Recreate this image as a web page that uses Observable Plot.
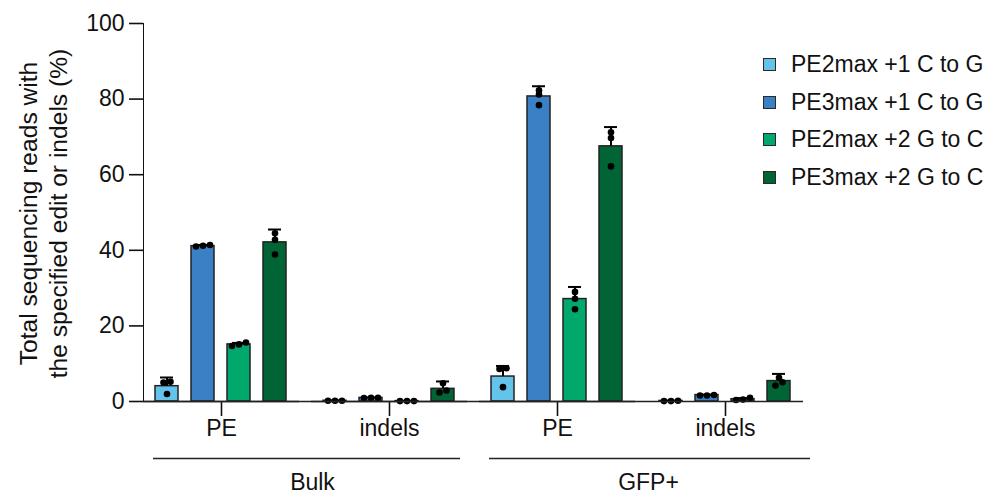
<!DOCTYPE html>
<html>
<head>
<meta charset="utf-8">
<script src="https://cdn.jsdelivr.net/npm/d3@7"></script>
<script src="https://cdn.jsdelivr.net/npm/@observablehq/plot@0.6"></script>
<style>
  html, body { margin: 0; padding: 0; background: #fff; }
  #wrap { position: relative; width: 987px; height: 495px; font-family: "Liberation Sans", Arial, sans-serif; color: #111; }
  #wrap svg g[aria-label*="axis"] { stroke-width: 1.6px; }
  #legend { position: absolute; left: 763px; top: 46px; }
  .row { display: flex; align-items: center; height: 37.5px; font-size: 23px; white-space: nowrap; }
  .sw { width: 11px; height: 11px; border: 1.5px solid #2a2a2a; margin-right: 15px; }
</style>
</head>
<body>
<div id="wrap"></div>
<script>
// ---- data ----
const series = ["PE2max +1 C to G", "PE3max +1 C to G", "PE2max +2 G to C", "PE3max +2 G to C"];
const colors = ["#64C3EB", "#3A80C4", "#00A86B", "#006434"];
const conditions = ["Bulk", "GFP+"];
const assays = ["PE", "indels"];
const yTicks = [0, 20, 40, 60, 80, 100];
const yTitle = "Total sequencing reads with\nthe specified edit or indels (%)";

// means (bar heights) and SD (error bars), per series
const bulkPEMean     = [4.05, 41.1, 15.1, 42.1];
const bulkPESd       = [2.3, 0.3, 0.4, 3.4];
const bulkIndelMean  = [0.2, 0.95, 0.1, 3.35];
const bulkIndelSd    = [0.05, 0.1, 0.05, 1.95];
const gfpPEMean      = [6.6, 80.7, 27.1, 67.5];
const gfpPESd        = [2.8, 2.7, 3.2, 5.1];
const gfpIndelMean   = [0.15, 1.7, 0.6, 5.4];
const gfpIndelSd     = [0.05, 0.1, 0.3, 1.9];

// individual replicates
const bulkPERep    = [[2.0, 5.0, 5.2], [41.0, 41.4, 41.2], [14.7, 15.1, 15.6], [38.9, 42.8, 44.5]];
const bulkIndelRep = [[0.2, 0.2, 0.2], [0.9, 1.0, 1.0], [0.1, 0.1, 0.1], [4.8, 2.9, 2.4]];
const gfpPERep     = [[3.8, 8.6, 8.8], [78.4, 81.2, 82.3], [24.4, 27.2, 29.0], [62.2, 69.7, 71.2]];
const gfpIndelRep  = [[0.1, 0.2, 0.1], [1.6, 1.7, 1.6], [0.4, 1.0, 0.5], [4.2, 5.1, 6.3]];

// ---- build tables ----
const groups = conditions.flatMap(c => assays.map(a => c + " " + a));
const means = [bulkPEMean, bulkIndelMean, gfpPEMean, gfpIndelMean];
const sds = [bulkPESd, bulkIndelSd, gfpPESd, gfpIndelSd];
const reps = [bulkPERep, bulkIndelRep, gfpPERep, gfpIndelRep];

const bars = [];
const dots = [];
groups.forEach((g, gi) => {
  series.forEach((s, si) => {
    bars.push({group: g, series: s, mean: means[gi][si], sd: sds[gi][si]});
    // spread overlapping replicate dots sideways (like GraphPad)
    const vals = reps[gi][si].map(v => ({group: g, series: s, value: v}));
    vals.sort((a, b) => a.value - b.value);
    const clusters = [];
    vals.forEach(v => {
      const last = clusters[clusters.length - 1];
      if (last && v.value - last[last.length - 1].value < 1.0) last.push(v);
      else clusters.push([v]);
    });
    clusters.forEach(c => c.forEach((v, k) => { v.slot = k - (c.length - 1) / 2; dots.push(v); }));
  });
});

const slots = [...new Set(dots.map(d => d.slot))];
const dotMarks = slots.map(sl => Plot.dot(dots.filter(d => d.slot === sl), {
  fx: "group", x: "series", y: "value", r: 3.3, fill: "#000", dx: sl * 7
}));

const ink = "#222";
const plot = Plot.plot({
  width: 987,
  height: 495,
  marginLeft: 143,
  marginRight: 184,
  marginTop: 23,
  marginBottom: 94,
  style: {fontFamily: "'Liberation Sans', Arial, sans-serif", fontSize: "23px", color: "#111", background: "transparent", overflow: "visible"},
  fx: {domain: groups, paddingInner: 12 / 168, paddingOuter: 0, axis: "bottom", tickSize: 15, tickPadding: 3,
       tickFormat: d => d.split(" ")[1], label: null},
  x: {domain: series, paddingInner: 0.361, paddingOuter: 0.347, axis: null},
  y: {domain: [0, 100], ticks: yTicks, tickSize: 14, tickPadding: 5, line: true, label: null},
  color: {domain: series, range: colors},
  marks: [
    Plot.barY(bars, {fx: "group", x: "series", y: "mean", fill: "series", stroke: ink, strokeWidth: 1.5}),
    Plot.ruleX(bars, {fx: "group", x: "series", y1: "mean", y2: d => d.mean + d.sd, stroke: "#000", strokeWidth: 2}),
    Plot.tickY(bars, {fx: "group", x: "series", y: d => d.mean + d.sd, stroke: "#000", strokeWidth: 2, insetLeft: 5, insetRight: 5}),
    ...dotMarks,
    // x baseline (continuous across the facet gaps)
    Plot.ruleY(groups, {fx: d => d, y: 0, stroke: ink, strokeWidth: 1.6}),
    Plot.ruleY(groups.slice(0, 3), {fx: d => d, y: 0, stroke: ink, strokeWidth: 1.6, insetRight: -12}),
    // condition brackets
    Plot.ruleY([groups[0], groups[2]], {fx: d => d, y: 0, dy: 57, stroke: ink, strokeWidth: 1.6, insetLeft: 10, insetRight: -12}),
    Plot.ruleY([groups[1]], {fx: d => d, y: 0, dy: 57, stroke: ink, strokeWidth: 1.6, insetRight: 7}),
    Plot.ruleY([groups[3]], {fx: d => d, y: 0, dy: 57, stroke: ink, strokeWidth: 1.6, insetRight: -7}),
    Plot.text([{g: groups[0], t: conditions[0]}, {g: groups[2], t: conditions[1]}], {
      fx: "g", text: "t", frameAnchor: "bottom-right", textAnchor: "middle", dx: 13, dy: 81, lineAnchor: "middle", fill: "#111"
    }),
    // y title (two lines)
    Plot.text([yTitle], {fx: () => groups[0], text: d => d, frameAnchor: "left", textAnchor: "middle", rotate: -90, dx: -101, dy: 1,
      lineAnchor: "middle", lineHeight: 1.2, fontSize: 24.6, fill: "#111"})
  ]
});

const wrap = document.getElementById("wrap");
wrap.appendChild(plot);

// legend
const legend = document.createElement("div");
legend.id = "legend";
series.forEach((s, i) => {
  const row = document.createElement("div");
  row.className = "row";
  const sw = document.createElement("span");
  sw.className = "sw";
  sw.style.background = colors[i];
  const lab = document.createElement("span");
  lab.textContent = s;
  row.appendChild(sw);
  row.appendChild(lab);
  legend.appendChild(row);
});
wrap.appendChild(legend);
</script>
</body>
</html>
